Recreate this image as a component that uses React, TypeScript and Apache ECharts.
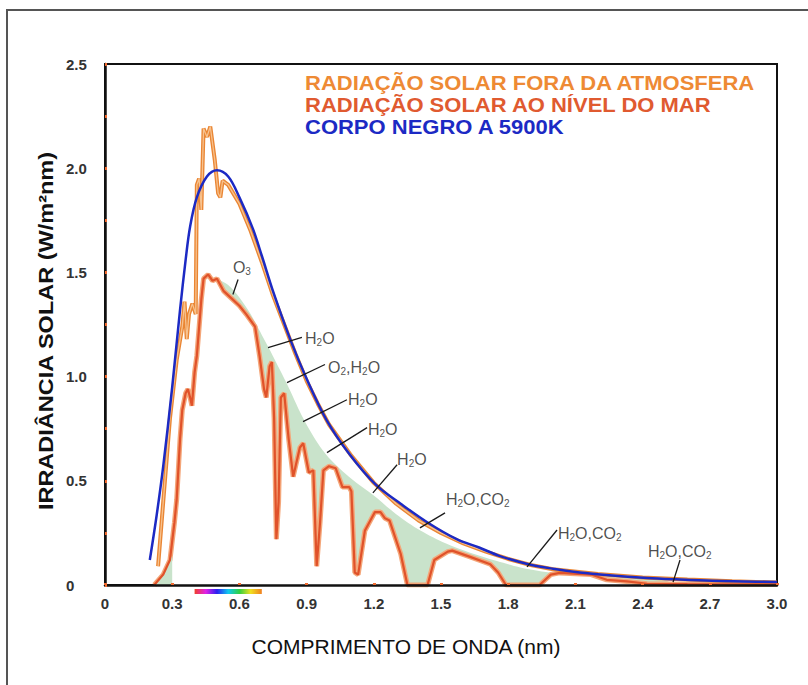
import React, { useEffect, useRef } from "react";
import * as echarts from "echarts";

// Axis ranges (wavelength as labelled, irradiance in W/m²nm)
const X_MIN = 0;
const X_MAX = 3.0;
const X_STEP = 0.3;
const Y_MIN = 0;
const Y_MAX = 2.5;
const Y_STEP = 0.5;

// Black body at 5900 K
const blackBody5900K: [number, number][] = [
  [0.2, 0.12], [0.23, 0.33], [0.26, 0.57], [0.3, 0.95], [0.335, 1.32], [0.36, 1.56],
  [0.38, 1.72], [0.41, 1.86], [0.455, 1.96], [0.5, 1.99], [0.55, 1.96], [0.6, 1.86],
  [0.66, 1.71], [0.7, 1.58], [0.75, 1.41], [0.83, 1.17], [0.9, 0.99], [0.99, 0.79],
  [1.09, 0.63], [1.21, 0.48], [1.32, 0.39], [1.44, 0.3], [1.57, 0.22], [1.67, 0.18],
  [1.76, 0.14], [1.89, 0.1], [2.0, 0.078], [2.12, 0.06], [2.25, 0.047], [2.42, 0.034],
  [2.55, 0.027], [2.71, 0.02], [2.85, 0.017], [3.0, 0.014],
];

// Solar radiation outside the atmosphere
const outsideAtmosphere: [number, number][] = [
  [0.237, 0.09], [0.26, 0.4], [0.29, 0.8], [0.32, 1.08], [0.345, 1.24], [0.355, 1.36],
  [0.365, 1.18], [0.375, 1.3], [0.39, 1.35], [0.405, 1.3], [0.41, 1.92], [0.42, 1.95],
  [0.43, 1.8], [0.44, 2.19], [0.455, 2.15], [0.47, 2.2], [0.49, 2.04], [0.505, 1.88],
  [0.515, 1.86], [0.525, 1.94], [0.55, 1.92], [0.6, 1.83], [0.65, 1.7], [0.7, 1.55],
  [0.75, 1.39], [0.8, 1.25], [0.85, 1.11], [0.9, 0.98], [0.95, 0.87], [1.0, 0.77],
  [1.1, 0.62], [1.2, 0.49], [1.3, 0.39], [1.4, 0.31], [1.5, 0.25], [1.6, 0.2],
  [1.7, 0.16], [1.8, 0.125], [1.9, 0.096], [2.0, 0.076], [2.2, 0.053], [2.4, 0.036],
  [2.6, 0.026], [2.8, 0.018], [3.0, 0.012],
];

// Solar radiation at sea level
const seaLevel: [number, number][] = [
  [0.22, 0.0], [0.26, 0.05], [0.29, 0.12], [0.31, 0.3], [0.32, 0.41], [0.335, 0.7],
  [0.345, 0.84], [0.36, 0.92], [0.37, 0.94], [0.38, 0.9], [0.388, 0.86], [0.4, 1.02],
  [0.41, 1.1], [0.43, 1.37], [0.44, 1.47], [0.46, 1.49], [0.48, 1.46], [0.5, 1.47],
  [0.53, 1.41], [0.56, 1.38], [0.6, 1.34], [0.63, 1.3], [0.67, 1.24], [0.69, 1.1],
  [0.71, 0.94], [0.72, 0.9], [0.735, 1.05], [0.745, 1.07], [0.755, 0.8], [0.765, 0.22],
  [0.775, 0.4], [0.785, 0.9], [0.8, 0.92], [0.82, 0.7], [0.84, 0.52], [0.87, 0.66],
  [0.885, 0.68], [0.91, 0.54], [0.93, 0.55], [0.945, 0.09], [0.96, 0.3], [0.975, 0.55],
  [1.0, 0.57], [1.03, 0.56], [1.06, 0.47], [1.09, 0.47], [1.1, 0.45], [1.115, 0.06],
  [1.13, 0.05], [1.16, 0.26], [1.205, 0.35], [1.23, 0.35], [1.25, 0.32], [1.27, 0.31],
  [1.32, 0.15], [1.35, 0.0], [1.44, 0.0], [1.47, 0.12], [1.53, 0.16], [1.55, 0.165],
  [1.63, 0.135], [1.72, 0.1], [1.755, 0.06], [1.79, 0.0], [1.94, 0.0], [1.99, 0.05],
  [2.03, 0.058], [2.17, 0.05], [2.24, 0.025], [2.33, 0.017], [2.42, 0.006], [2.6, 0.004],
  [3.0, 0.003],
];

// Sea-level curve without molecular absorption (upper edge of the shaded bands)
const absorptionEnvelope: [number, number][] = [
  [0.5, 1.47], [0.55, 1.44], [0.6, 1.38], [0.65, 1.3], [0.7, 1.2], [0.73, 1.14],
  [0.81, 0.97], [0.88, 0.81], [0.95, 0.68], [1.0, 0.61], [1.1, 0.51], [1.2, 0.43],
  [1.3, 0.34], [1.41, 0.26], [1.52, 0.2], [1.63, 0.155], [1.75, 0.115], [1.85, 0.085],
  [1.95, 0.065], [2.1, 0.05], [2.3, 0.035], [2.5, 0.022], [2.55, 0.0],
];

// Ultraviolet absorption sliver near the origin
const uvAbsorption: [number, number][] = [
  [0.22, 0.0], [0.26, 0.05], [0.29, 0.12], [0.3, 0.14], [0.3, 0.0],
];

// Visible band drawn as a colour strip under the axis
const visibleBand: [number, number] = [0.4, 0.7];
const visibleColors = ["#f0402a", "#e020e8", "#2a20f0", "#10c8f0", "#30d040", "#f0e020", "#f08020"];

const legendItems = [
  { text: "RADIAÇÃO SOLAR FORA DA ATMOSFERA", color: "#ee8a34" },
  { text: "RADIAÇÃO SOLAR AO NÍVEL DO MAR", color: "#e05a30" },
  { text: "CORPO NEGRO A 5900K", color: "#1c2ac4" },
];

// Absorption band labels: text anchor (left, middle) and leader line
const annotations = [
  { label: "O₃", at: [0.571, 1.524], from: [0.594, 1.466], to: [0.571, 1.394] },
  { label: "H₂O", at: [0.893, 1.183], from: [0.879, 1.188], to: [0.728, 1.139] },
  { label: "O₂,H₂O", at: [0.996, 1.043], from: [0.982, 1.058], to: [0.8125, 0.971] },
  { label: "H₂O", at: [1.085, 0.889], from: [1.08, 0.889], to: [0.884, 0.784] },
  { label: "H₂O", at: [1.174, 0.745], from: [1.17, 0.755], to: [0.991, 0.635] },
  { label: "H₂O", at: [1.304, 0.601], from: [1.304, 0.577], to: [1.196, 0.442] },
  { label: "H₂O,CO₂", at: [1.522, 0.409], from: [1.518, 0.346], to: [1.406, 0.274] },
  { label: "H₂O,CO₂", at: [2.022, 0.245], from: [2.018, 0.264], to: [1.884, 0.087] },
  { label: "H₂O,CO₂", at: [2.424, 0.163], from: [2.567, 0.12], to: [2.536, 0.014] },
];

const FONT = "'Liberation Sans', Arial, Helvetica, sans-serif";

// Turn "H₂O" into rich-text tokens with real subscripts
function toRich(label: string): string {
  const subs: Record<string, string> = { "₂": "2", "₃": "3" };
  let out = "";
  for (const ch of label) {
    if (subs[ch]) out += `{s|${subs[ch]}}`;
    else out += `{n|${ch}}`;
  }
  return out;
}

export default function App() {
  const ref = useRef<HTMLDivElement>(null);

  useEffect(() => {
    document.body.style.margin = "0";
    if (!ref.current) return;
    const chart = echarts.init(ref.current, null, { renderer: "svg" });

    const fmt = (v: number) => (v === 0 ? "0" : v.toFixed(1));

    chart.setOption({
      animation: false,
      backgroundColor: "#ffffff",
      grid: {
        left: 105,
        right: 31,
        top: 64,
        bottom: 100,
        show: true,
        borderColor: "#111",
        borderWidth: 2,
        backgroundColor: "transparent",
      },
      xAxis: {
        type: "value",
        min: X_MIN,
        max: X_MAX,
        interval: X_STEP,
        z: 10,
        axisLine: { show: true, lineStyle: { color: "#111", width: 2.5 } },
        axisTick: { show: true, inside: true, length: 2, lineStyle: { color: "#f06a30", width: 3 } },
        splitLine: { show: false },
        axisLabel: {
          formatter: fmt,
          fontFamily: FONT,
          fontSize: 15,
          fontWeight: "bold",
          color: "#333",
          margin: 11,
        },
      },
      yAxis: {
        type: "value",
        min: Y_MIN,
        max: Y_MAX,
        interval: Y_STEP,
        z: 10,
        axisLine: { show: true, lineStyle: { color: "#111", width: 2.5 } },
        axisTick: { show: true, inside: true, length: 2, lineStyle: { color: "#f06a30", width: 3 } },
        minorTick: { show: true, splitNumber: 2, length: 2, lineStyle: { color: "#f06a30", width: 3 } },
        splitLine: { show: false },
        axisLabel: {
          formatter: fmt,
          fontFamily: FONT,
          fontSize: 15,
          fontWeight: "bold",
          color: "#333",
          align: "left",
          margin: 39,
        },
      },
      series: [
        {
          name: "absorção",
          type: "line",
          data: absorptionEnvelope,
          symbol: "none",
          smooth: 0.3,
          silent: true,
          z: 1,
          lineStyle: { width: 0 },
          areaStyle: { color: "#c9e3cb", opacity: 1 },
        },
        {
          name: "nível do mar (fundo)",
          type: "line",
          data: seaLevel,
          symbol: "none",
          silent: true,
          z: 2,
          lineStyle: { color: "#f4a679", width: 5 },
          areaStyle: { color: "#ffffff", opacity: 1 },
        },
        {
          name: "UV",
          type: "line",
          data: uvAbsorption,
          symbol: "none",
          silent: true,
          z: 3,
          lineStyle: { width: 0 },
          areaStyle: { color: "#c9e3cb", opacity: 1 },
        },
        {
          name: "fora da atmosfera",
          type: "line",
          data: outsideAtmosphere,
          symbol: "none",
          silent: true,
          z: 4,
          lineStyle: { color: "#ea8634", width: 4 },
        },
        {
          name: "fora da atmosfera (centro)",
          type: "line",
          data: outsideAtmosphere,
          symbol: "none",
          silent: true,
          z: 4,
          lineStyle: { color: "#f7c28e", width: 1.3 },
        },
        {
          name: "nível do mar",
          type: "line",
          data: seaLevel,
          symbol: "none",
          silent: true,
          z: 5,
          lineStyle: { color: "#e0522a", width: 2.2 },
        },
        {
          name: "corpo negro",
          type: "line",
          data: blackBody5900K,
          symbol: "none",
          smooth: 0.35,
          silent: true,
          z: 6,
          lineStyle: { color: "#1c2ac4", width: 2.5 },
        },
        {
          name: "guias",
          type: "lines",
          coordinateSystem: "cartesian2d",
          silent: true,
          z: 7,
          data: annotations.map((a) => ({ coords: [a.from, a.to] })),
          lineStyle: { color: "#1a1a1a", width: 1.3, opacity: 1 },
        },
        {
          name: "rótulos",
          type: "scatter",
          silent: true,
          z: 8,
          symbolSize: 0,
          data: annotations.map((a) => ({ value: a.at, name: a.label })),
          label: {
            show: true,
            position: "right",
            distance: 0,
            formatter: (p: any) => toRich(p.name),
            rich: {
              n: { fontFamily: FONT, fontSize: 16, lineHeight: 18, color: "#1e1e1e" },
              s: { fontFamily: FONT, fontSize: 10, lineHeight: 11, color: "#1e1e1e", verticalAlign: "bottom" },
            },
          },
        },
      ],
    });

    // Decorations positioned from the axes' own scales
    const pLeft = chart.convertToPixel({ gridIndex: 0 }, [visibleBand[0], 0]) as number[];
    const pRight = chart.convertToPixel({ gridIndex: 0 }, [visibleBand[1], 0]) as number[];

    const graphics: any[] = [
      {
        type: "rect",
        shape: { x: 7, y: 10, width: 900, height: 800 },
        style: { fill: "none", stroke: "#555", lineWidth: 2 },
        z: 0,
        silent: true,
      },
      {
        type: "rect",
        shape: { x: pLeft[0], y: pLeft[1] + 4, width: pRight[0] - pLeft[0], height: 5 },
        style: {
          fill: new echarts.graphic.LinearGradient(
            0, 0, 1, 0,
            visibleColors.map((c, i) => ({ offset: i / (visibleColors.length - 1), color: c }))
          ),
        },
        silent: true,
      },
      ...legendItems.map((item, i) => ({
        type: "text",
        x: 305,
        y: 83 + i * 22,
        scaleX: 1.1,
        silent: true,
        style: {
          text: item.text,
          fill: item.color,
          fontFamily: FONT,
          fontSize: 20,
          fontWeight: "bold",
          textVerticalAlign: "middle",
        },
      })),
      {
        type: "text",
        x: 406,
        y: 646,
        silent: true,
        style: {
          text: "COMPRIMENTO DE ONDA (nm)",
          fill: "#111",
          fontFamily: FONT,
          fontSize: 21,
          textAlign: "center",
          textVerticalAlign: "middle",
        },
      },
      {
        type: "text",
        x: 46,
        y: 331,
        rotation: Math.PI / 2,
        scaleX: 1.12,
        silent: true,
        style: {
          text: "IRRADIÂNCIA SOLAR (W/m²nm)",
          fill: "#111",
          fontFamily: FONT,
          fontSize: 21,
          fontWeight: "bold",
          textAlign: "center",
          textVerticalAlign: "middle",
        },
      },
    ];

    chart.setOption({ graphic: graphics });

    return () => {
      chart.dispose();
    };
  }, []);

  return <div ref={ref} style={{ width: 808, height: 685 }} />;
}
